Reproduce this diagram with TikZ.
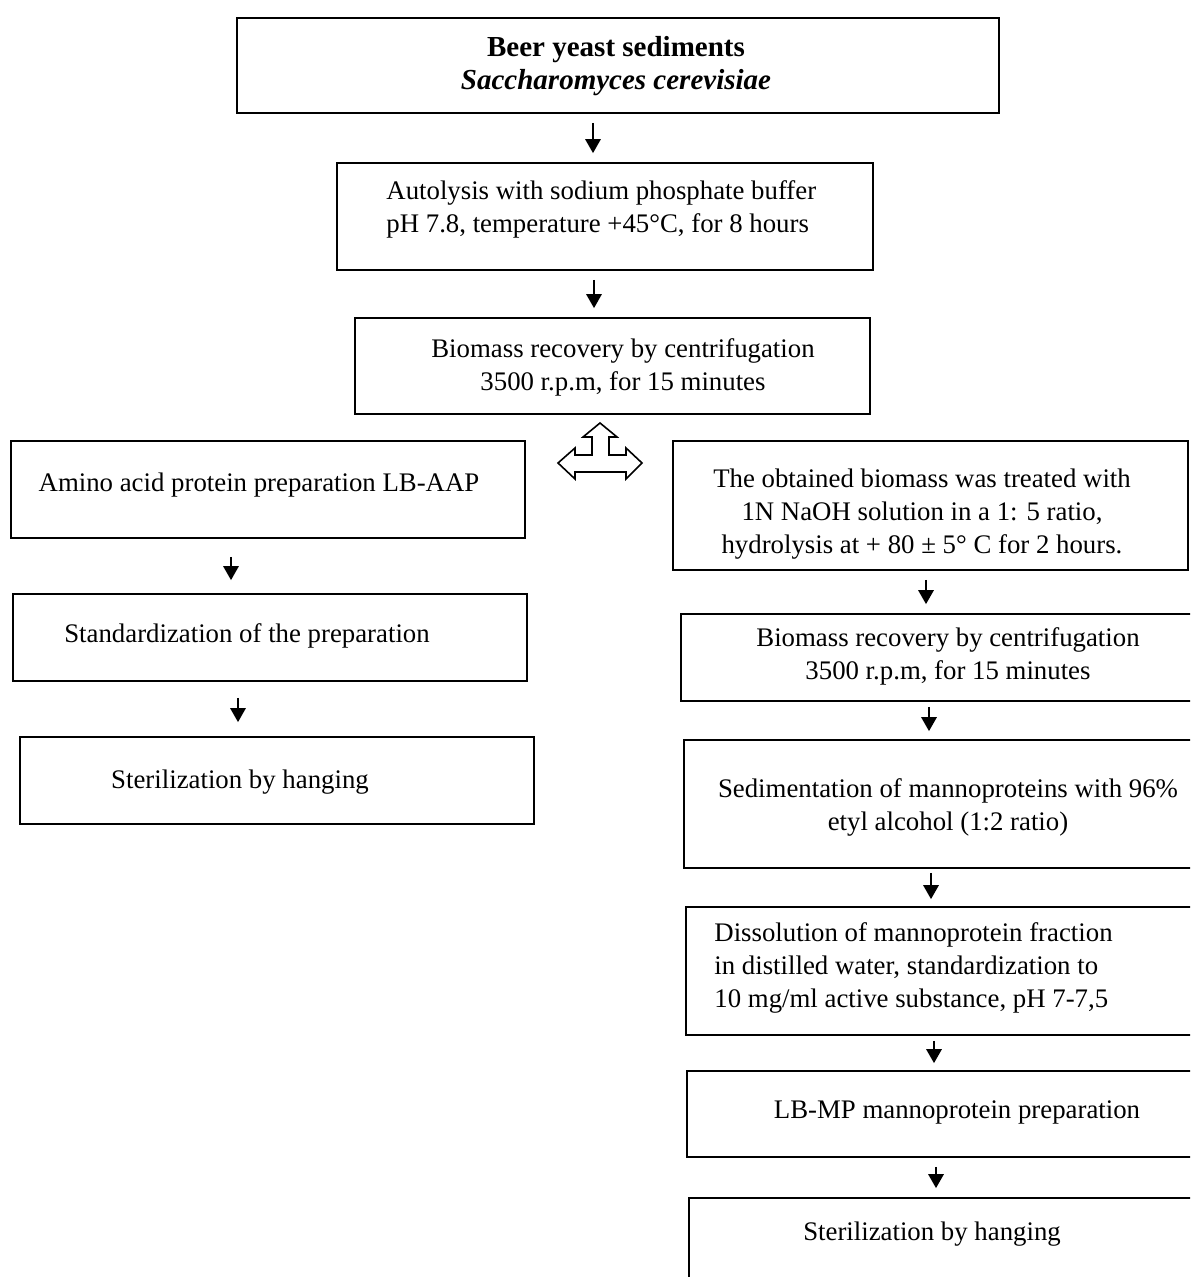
\documentclass[tikz,border=0pt]{standalone}
\usepackage{fontspec}
\setmainfont{Liberation Serif}
\usetikzlibrary{arrows.meta}

\begin{document}
\begin{tikzpicture}[x=0.5pt,y=-0.5pt,
    box/.style={draw,line width=0.8pt,rectangle,inner sep=0pt},
    txt/.style={font=\fontsize{13.4}{16.5}\selectfont,align=center,inner sep=0pt},
    arr/.style={-{Triangle[length=7pt,width=7.5pt]},line width=1.4pt,
      shorten <=4.5pt,shorten >=4.5pt}]

  \useasboundingbox (0,0) rectangle (1190,1277);
  \clip (0,0) rectangle (1190,1277);

  % boxes
  \node[box,minimum width=381pt,minimum height=47.5pt] (beer) at (618,65.5) {};
  \node[box,minimum width=268pt,minimum height=53.5pt] (autolysis) at (605,216.5) {};
  \node[box,minimum width=257.5pt,minimum height=48pt] (recovery) at (612.5,366) {};
  \node[box,minimum width=257pt,minimum height=48.5pt] (amino) at (268,489.5) {};
  \node[box,minimum width=257pt,minimum height=43.5pt] (standard) at (270,637.5) {};
  \node[box,minimum width=257pt,minimum height=43.5pt] (sterilL) at (277,780.5) {};
  \node[box,minimum width=257.5pt,minimum height=64.5pt] (treated) at (930.5,505.5) {};
  \node[box,minimum width=257.5pt,minimum height=43.5pt] (recovery2) at (938.5,657.5) {};
  \node[box,minimum width=255pt,minimum height=64pt] (sediment) at (939,804) {};
  \node[box,minimum width=254pt,minimum height=64pt] (dissolve) at (940,971) {};
  \node[box,minimum width=253.5pt,minimum height=43pt] (lbmp) at (940.5,1114) {};
  \node[box,minimum width=252.5pt,minimum height=51pt] (sterilR) at (941.5,1249) {};

  % texts
  \node[txt,font=\fontsize{14.5}{16.5}\selectfont] (beer-t) at (616,66) {\bfseries Beer yeast sediments\\\bfseries\itshape Saccharomyces cerevisiae};
  \node[txt,align=left,anchor=west] (autolysis-t) at (386,209.5) {Autolysis with sodium phosphate buffer\\pH 7.8, temperature +45°C, for 8 hours};
  \node[txt] (recovery-t) at (623,367.5) {Biomass recovery by centrifugation\\3500 r.p.m, for 15 minutes};
  \node[txt] (amino-t) at (259,485) {Amino acid protein preparation LB-AAP};
  \node[txt] (standard-t) at (247,636) {Standardization of the preparation};
  \node[txt] (sterilL-t) at (240,782) {Sterilization by hanging};
  \node[txt] (treated-t) at (922,514) {The obtained biomass was treated with\\1N NaOH solution in a 1: 5 ratio,\\hydrolysis at + 80 ± 5° C for 2 hours.};
  \node[txt] (recovery2-t) at (948,656) {Biomass recovery by centrifugation\\3500 r.p.m, for 15 minutes};
  \node[txt] (sediment-t) at (948,807.5) {Sedimentation of mannoproteins with 96\%\\etyl alcohol (1:2 ratio)};
  \node[txt,align=left,anchor=west] (dissolve-t) at (714,968) {Dissolution of mannoprotein fraction\\in distilled water, standardization to\\10 mg/ml active substance, pH 7-7,5};
  \node[txt] (lbmp-t) at (957,1112) {LB-MP mannoprotein preparation};
  \node[txt] (sterilR-t) at (932,1234) {Sterilization by hanging};

  % arrows
  \draw[arr] (beer.south -| 593,0) -- (autolysis.north -| 593,0);
  \draw[arr] (autolysis.south -| 594,0) -- (recovery.north -| 594,0);
  \draw[arr,shorten <=9pt,shorten >=6.5pt] (amino.south -| 231,0) -- (standard.north -| 231,0);
  \draw[arr,shorten <=8pt,shorten >=7pt] (standard.south -| 238,0) -- (sterilL.north -| 238,0);
  \draw[arr] (treated.south -| 926,0) -- (recovery2.north -| 926,0);
  \draw[arr,shorten <=2.5pt,shorten >=4pt] (recovery2.south -| 929,0) -- (sediment.north -| 929,0);
  \draw[arr,shorten <=2pt,shorten >=3.5pt] (sediment.south -| 931,0) -- (dissolve.north -| 931,0);
  \draw[arr,shorten <=2.5pt,shorten >=3.5pt] (dissolve.south -| 934,0) -- (lbmp.north -| 934,0);
  \draw[arr] (lbmp.south -| 936,0) -- (sterilR.north -| 936,0);

  % three-way hollow arrow
  \draw[line width=0.8pt,line join=miter]
    (558,463) -- (575,448) -- (575,455) -- (592,455) -- (592,437) -- (583,437)
    -- (600,423) -- (617,437) -- (609,437) -- (609,455) -- (626,455)
    -- (626,448) -- (642,463) -- (626,479) -- (626,472) -- (575,472)
    -- (575,479) -- cycle;

\end{tikzpicture}
\end{document}
